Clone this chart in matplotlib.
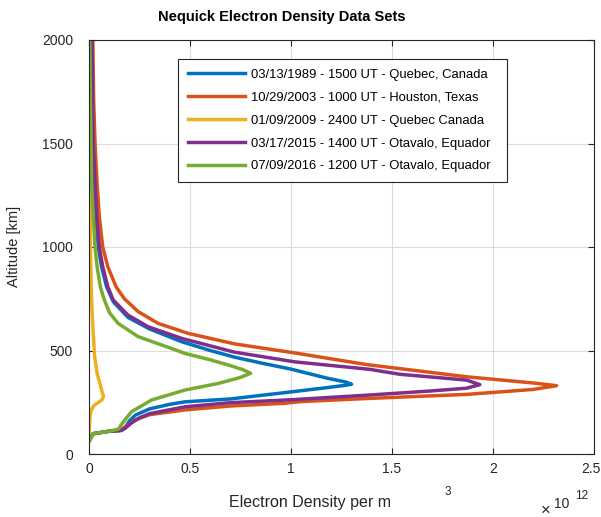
import matplotlib
matplotlib.use("Agg")
import matplotlib.pyplot as plt
from matplotlib.transforms import ScaledTranslation

plt.rcParams['font.family'] = ['Liberation Sans', 'DejaVu Sans']

# electron density in units of 1e12 per m^3, altitude in km
dens_1989 = [0.0, 0.02, 0.10, 0.16, 0.18, 0.20, 0.23, 0.30, 0.40, 0.475, 0.70, 1.00, 1.19, 1.27, 1.30,
             1.27, 1.18, 1.00, 0.85, 0.72, 0.60, 0.457, 0.30, 0.193, 0.12, 0.087, 0.062, 0.046,
             0.034, 0.026, 0.018, 0.014, 0.012]
alt_1989 = [62, 98, 110, 115, 130, 160, 188, 218, 240, 252, 266, 300, 322, 332, 337,
            348, 366, 410, 440, 468, 500, 543, 604, 660, 736, 808, 905, 1000,
            1147, 1308, 1500, 1710, 2000]

dens_2003 = [0.0, 0.02, 0.10, 0.15, 0.17, 0.20, 0.228, 0.30, 0.475, 0.70, 0.97, 1.045, 1.375, 1.87, 2.20, 2.315,
             2.20, 1.87, 1.375, 1.02, 0.72, 0.49, 0.342, 0.243, 0.175, 0.134, 0.093, 0.068,
             0.051, 0.04, 0.03, 0.023, 0.019]
alt_2003 = [62, 98, 110, 113, 125, 145, 164, 190, 213, 232, 245, 253, 268, 288, 312, 330,
            343, 373, 432, 488, 532, 583, 631, 688, 750, 808, 905, 1000,
            1147, 1308, 1500, 1710, 2000]

dens_2009 = [0.0, 0.0, 0.003, 0.006, 0.012, 0.025, 0.045, 0.065, 0.072,
             0.066, 0.054, 0.04, 0.028, 0.02, 0.012, 0.007, 0.004, 0.003, 0.002]
alt_2009 = [62, 100, 150, 190, 215, 235, 248, 262, 280,
            295, 341, 390, 470, 599, 760, 1000, 1300, 1600, 2000]

dens_2015 = [0.0, 0.02, 0.10, 0.16, 0.18, 0.21, 0.25, 0.30, 0.475, 0.70, 1.00, 1.39, 1.70, 1.87, 1.935,
             1.87, 1.54, 1.39, 1.02, 0.72, 0.457, 0.292, 0.193, 0.12, 0.093, 0.068, 0.051,
             0.038, 0.03, 0.021, 0.018, 0.015]
alt_2015 = [62, 98, 110, 113, 125, 150, 175, 195, 228, 248, 262, 285, 305, 318, 335,
            357, 385, 409, 445, 492, 559, 615, 671, 744, 808, 905, 1000,
            1147, 1308, 1500, 1710, 2000]

dens_2016 = [0.0, 0.02, 0.10, 0.145, 0.17, 0.21, 0.31, 0.475, 0.64, 0.75, 0.80,
             0.76, 0.69, 0.60, 0.475, 0.408, 0.243, 0.144, 0.102, 0.076, 0.056, 0.04, 0.03,
             0.021, 0.013, 0.01, 0.007, 0.004]
alt_2016 = [60, 98, 110, 120, 155, 204, 261, 309, 341, 370, 390,
            408, 430, 455, 486, 510, 567, 631, 682, 744, 808, 905, 1000,
            1147, 1308, 1500, 1710, 2000]

labels = ["03/13/1989 - 1500 UT - Quebec, Canada",
          "10/29/2003 - 1000 UT - Houston, Texas",
          "01/09/2009 - 2400 UT - Quebec Canada",
          "03/17/2015 - 1400 UT - Otavalo, Equador",
          "07/09/2016 - 1200 UT - Otavalo, Equador"]
colors = ["#0072BD", "#D95319", "#EDB120", "#7E2F8E", "#77AC30"]

x_ticks = [0, 0.5, 1, 1.5, 2, 2.5]
x_ticklabels = ["0", "0.5", "1", "1.5", "2", "2.5"]
y_ticks = [0, 500, 1000, 1500, 2000]

fig = plt.figure(figsize=(6.01, 5.17), dpi=100)
ax = fig.add_axes([89 / 601, 63 / 517, 505 / 601, 414 / 517])

series = [(dens_1989, alt_1989), (dens_2003, alt_2003), (dens_2009, alt_2009),
          (dens_2015, alt_2015), (dens_2016, alt_2016)]
for (d, a), lab, col in zip(series, labels, colors):
    ax.plot(d, a, color=col, lw=2.5, label=lab, solid_joinstyle='round')

ax.set_xlim(0, 2.5)
ax.set_ylim(0, 2000)
ax.set_xticks(x_ticks)
ax.set_xticklabels(x_ticklabels)
ax.set_yticks(y_ticks)
ax.grid(True, color="#dcdcdc", lw=0.8)
ax.set_axisbelow(True)
ax.tick_params(direction='in', length=4, width=0.8, top=True, right=True,
               labelsize=10, colors="#262626")
ax.tick_params(axis='y', pad=11.5)
ax.tick_params(axis='x', pad=5.5)
for s in ax.spines.values():
    s.set_color("#262626")
    s.set_linewidth(0.8)

# nudge the last x tick label so it stays inside the figure
last = ax.get_xticklabels()[-1]
last.set_transform(last.get_transform() + ScaledTranslation(-2.5 / 72, 0, fig.dpi_scale_trans))

fig.text(282 / 601, 1 - 17 / 517, "Nequick Electron Density Data Sets", fontsize=10.5,
         fontweight='bold', ha='center', va='center')
fig.text(14 / 601, 1 - 246 / 517, "Altitude [km]", fontsize=10.5, color="#262626",
         rotation=90, ha='center', va='center')

# MATLAB-style split x label and exponent
fig.text(310 / 601, 1 - 503 / 517, "Electron Density per m", fontsize=11.5, color="#262626",
         ha='center', va='center')
fig.text(448 / 601, 1 - 492 / 517, "3", fontsize=8.5, color="#262626", ha='center', va='center')
fig.text(546 / 601, 1 - 510 / 517, "\u00d7", fontsize=12, color="#262626", ha='center', va='center')
fig.text(562 / 601, 1 - 504 / 517, "10", fontsize=10, color="#262626", ha='center', va='center')
fig.text(582 / 601, 1 - 496 / 517, "12", fontsize=8.5, color="#262626", ha='center', va='center')

leg = ax.legend(loc='upper left', bbox_to_anchor=(0.1762, 0.0, 0.6515, 0.954), mode='expand',
                borderaxespad=0, fontsize=9.4, handlelength=4.4, handletextpad=0.45,
                labelspacing=0.82, borderpad=0.75, fancybox=False, framealpha=1,
                edgecolor="#262626")
leg.get_frame().set_linewidth(0.8)

fig.savefig("out.png", dpi=100)
